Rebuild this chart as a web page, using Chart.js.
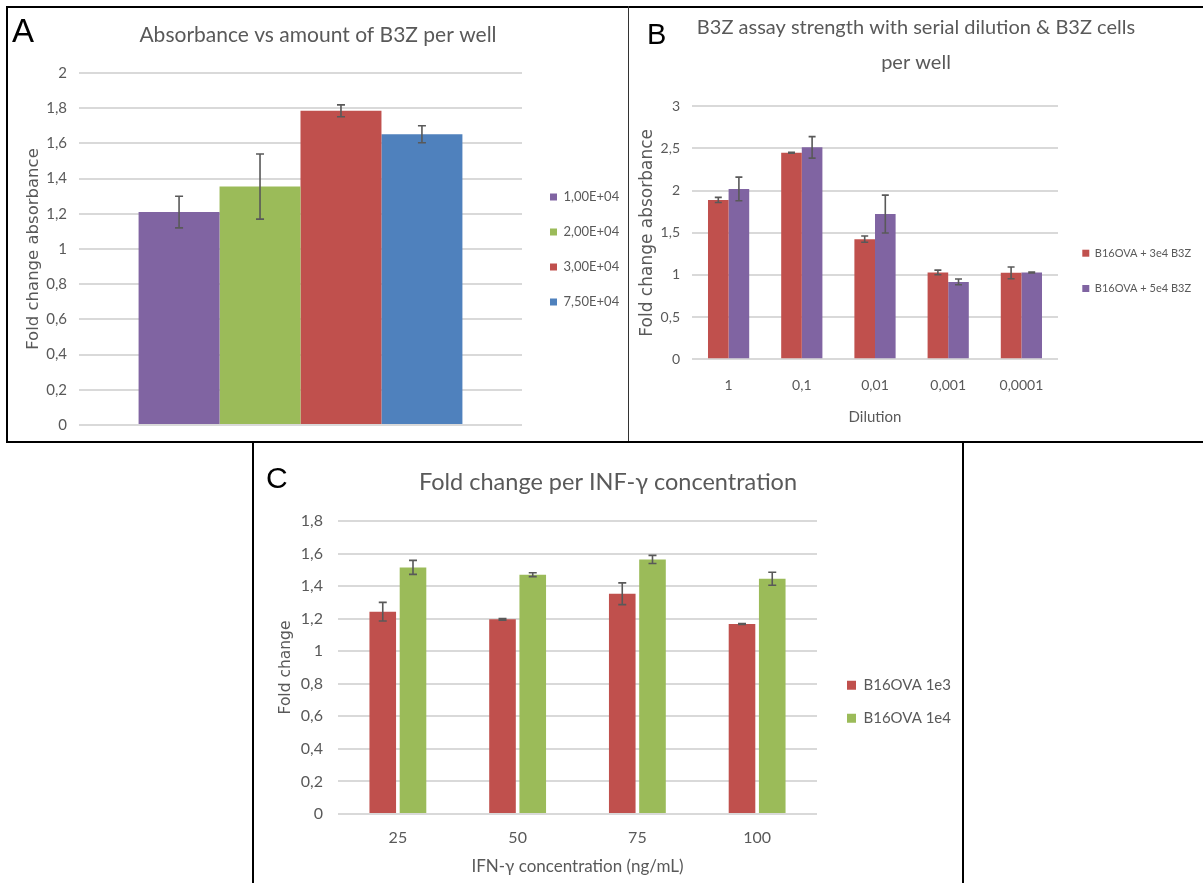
<!DOCTYPE html>
<html><head><meta charset="utf-8">
<script src="https://cdn.jsdelivr.net/npm/chart.js@4.4.1/dist/chart.umd.min.js"></script>
<style>
html,body{margin:0;padding:0;background:#fff;}
#wrap{position:relative;width:1203px;height:883px;overflow:hidden;background:#fff;}
.ln{position:absolute;background:#000;}
.lt{position:absolute;font-family:"Liberation Sans",Arial,sans-serif;color:#000;line-height:1;}
canvas{position:absolute;}
</style></head><body>
<div id="wrap">
<canvas id="cA" width="618" height="437" style="left:9px;top:9px"></canvas>
<canvas id="cB" width="574" height="431" style="left:629px;top:9px"></canvas>
<canvas id="cC" width="706" height="440" style="left:255px;top:443px"></canvas>
<div class="ln" style="left:6px;top:6px;width:1197px;height:2px"></div>
<div class="ln" style="left:6px;top:6px;width:2px;height:437px"></div>
<div class="ln" style="left:628px;top:6px;width:1px;height:436px;background:#333"></div>
<div class="ln" style="left:6px;top:441px;width:1197px;height:2px"></div>
<div class="ln" style="left:252px;top:441px;width:2px;height:442px"></div>
<div class="ln" style="left:962px;top:441px;width:2px;height:442px"></div>
<div class="lt" style="left:12px;top:14px;font-size:33px">A</div>
<div class="lt" style="left:647px;top:20px;font-size:29px">B</div>
<div class="lt" style="left:266px;top:463px;font-size:30px">C</div>
</div>
<script>
// ---------- DATA ----------
// Panel A
const aCategories = [''];
const aSeriesNames = ['1,00E+04', '2,00E+04', '3,00E+04', '7,50E+04'];
const aValues = [1.21, 1.355, 1.785, 1.652];
const aErrors = [0.09, 0.185, 0.034, 0.048];
const aTickLabels = ['0', '0,2', '0,4', '0,6', '0,8', '1', '1,2', '1,4', '1,6', '1,8', '2'];

// Panel B
const bCategories = ['1', '0,1', '0,01', '0,001', '0,0001'];
const bSeriesNames = ['B16OVA + 3e4 B3Z', 'B16OVA + 5e4 B3Z'];
const b3e4 = [1.89, 2.45, 1.425, 1.03, 1.025];
const b3e4Err = [0.03, 0.005, 0.037, 0.028, 0.07];
const b5e4 = [2.02, 2.513, 1.722, 0.918, 1.03];
const b5e4Err = [0.14, 0.127, 0.225, 0.034, 0.005];
const bTickLabels = ['0', '0,5', '1', '1,5', '2', '2,5', '3'];

// Panel C
const cCategories = ['25', '50', '75', '100'];
const cSeriesNames = ['B16OVA 1e3', 'B16OVA 1e4'];
const c1e3 = [1.243, 1.196, 1.353, 1.167];
const c1e3Err = [0.057, 0.005, 0.067, 0.003];
const c1e4 = [1.515, 1.470, 1.564, 1.445];
const c1e4Err = [0.043, 0.012, 0.025, 0.04];
const cTickLabels = ['0', '0,2', '0,4', '0,6', '0,8', '1', '1,2', '1,4', '1,6', '1,8'];

// ---------- STYLE ----------
const PURPLE = '#8064A2', GREEN = '#9BBB59', RED = '#C0504D', BLUE = '#4F81BD';
const GRAY = '#595959', GRID = '#D9D9D9';
const SANS = 'Lato, "Open Sans", sans-serif';
const WIDE = '"DejaVu Sans", Verdana, sans-serif';

const errorBars = {
  id: 'errorBars',
  afterDatasetsDraw(chart, args, opts) {
    const ctx = chart.ctx, ys = chart.scales.y;
    ctx.save();
    ctx.strokeStyle = opts.color || GRAY;
    ctx.lineWidth = opts.width || 1.6;
    chart.data.datasets.forEach((ds, i) => {
      const meta = chart.getDatasetMeta(i);
      if (!ds.errors) return;
      meta.data.forEach((bar, j) => {
        const v = ds.data[j], e = ds.errors[j];
        const x = bar.x;
        const yt = ys.getPixelForValue(v + e), yb = ys.getPixelForValue(v - e);
        const cw = opts.cap || 4;
        ctx.beginPath();
        ctx.moveTo(x, yt); ctx.lineTo(x, yb);
        ctx.moveTo(x - cw, yt); ctx.lineTo(x + cw, yt);
        ctx.moveTo(x - cw, yb); ctx.lineTo(x + cw, yb);
        ctx.stroke();
      });
    });
    ctx.restore();
  }
};

const fixLegend = {
  id: 'fixLegend',
  beforeLayout(chart, args, opts) {
    const lg = chart.legend;
    if (lg && !lg._fixedW) {
      const orig = lg.fit;
      lg.fit = function () { orig.call(this); if (opts.width) this.width = opts.width; };
      lg._fixedW = true;
    }
  }
};

function yAxis(max, step, labels, tickSize, tickPad, width, title, tSize, tPad) {
  return {
    min: 0, max: max,
    afterFit: s => { s.width = width; },
    grid: { color: GRID, lineWidth: 2, drawTicks: false },
    border: { display: false },
    ticks: { stepSize: step, color: GRAY, padding: tickPad, font: { family: SANS, size: tickSize },
      callback: (v, i) => labels[i] },
    title: { display: true, text: title, color: GRAY, font: { family: WIDE, size: tSize, lineHeight: 1.2 }, padding: { top: tPad, bottom: 0 } }
  };
}
function dummyAxis(w) {
  return { position: 'right', display: true, afterFit: s => { s.width = w; },
    grid: { display: false, drawTicks: false }, border: { display: false }, ticks: { display: false } };
}
function legendOpts(size, box, pad, shift) {
  return {
    position: 'right', align: 'center',
    title: { display: true, text: ' ', padding: { top: shift, bottom: 0 }, font: { size: 1, lineHeight: 1 } },
    labels: { boxWidth: box, boxHeight: box, padding: pad, color: GRAY, font: { family: SANS, size: size } }
  };
}

// ---------- CHART A ----------
new Chart(document.getElementById('cA'), {
  type: 'bar',
  data: {
    labels: aCategories,
    datasets: aSeriesNames.map((n, i) => ({
      label: n, data: [aValues[i]], errors: [aErrors[i]],
      backgroundColor: [PURPLE, GREEN, RED, BLUE][i],
      categoryPercentage: 0.731, barPercentage: 1.0
    }))
  },
  options: {
    responsive: false, animation: false, devicePixelRatio: 1,
    layout: { padding: { left: 0, right: 0, top: 0, bottom: 0 } },
    scales: {
      x: { display: false },
      y: yAxis(2, 0.2, aTickLabels, 15, 12, 70, 'Fold change absorbance', 16.5, 14.6),
      yR: dummyAxis(6)
    },
    plugins: {
      title: { display: true, text: 'Absorbance vs amount of B3Z per well', color: GRAY,
        font: { family: SANS, size: 21, weight: 'normal', lineHeight: 1.2 }, padding: { top: 13.4, bottom: 25.4 } },
      legend: legendOpts(13, 7, 22, 43),
      tooltip: { enabled: false },
      errorBars: { cap: 4, width: 1.6 },
      fixLegend: { width: 99 }
    }
  },
  plugins: [errorBars, fixLegend]
});

// ---------- CHART B ----------
new Chart(document.getElementById('cB'), {
  type: 'bar',
  data: {
    labels: bCategories,
    datasets: [
      { label: bSeriesNames[0], data: b3e4, errors: b3e4Err, backgroundColor: RED, categoryPercentage: 0.563, barPercentage: 1.0 },
      { label: bSeriesNames[1], data: b5e4, errors: b5e4Err, backgroundColor: PURPLE, categoryPercentage: 0.563, barPercentage: 1.0 }
    ]
  },
  options: {
    responsive: false, animation: false, devicePixelRatio: 1,
    layout: { padding: { left: 0, right: 0, top: 0, bottom: 10 } },
    scales: {
      x: {
        afterFit: s => { s.height = 70.7; },
        grid: { display: false, drawTicks: false }, border: { display: false },
        ticks: { color: GRAY, padding: 18, font: { family: SANS, size: 14 } },
        title: { display: true, text: 'Dilution', color: GRAY, font: { family: SANS, size: 15, lineHeight: 1.2 }, padding: { top: 0, bottom: 4.3 } }
      },
      y: yAxis(3, 0.5, bTickLabels, 14, 12, 63, 'Fold change absorbance', 17, 8.8),
      yR: dummyAxis(0)
    },
    plugins: {
      title: { display: true, text: ['B3Z assay strength with serial dilution & B3Z cells', 'per well'], color: GRAY,
        font: { family: SANS, size: 20, weight: 'normal', lineHeight: 1.78 }, padding: { top: 0.6, bottom: 25.5 } },
      legend: legendOpts(11, 7, 24.3, 101.7),
      tooltip: { enabled: false },
      errorBars: { cap: 3.5, width: 1.6 },
      fixLegend: { width: 145 }
    }
  },
  plugins: [errorBars, fixLegend]
});

// ---------- CHART C ----------
new Chart(document.getElementById('cC'), {
  type: 'bar',
  data: {
    labels: cCategories,
    datasets: [
      { label: cSeriesNames[0], data: c1e3, errors: c1e3Err, backgroundColor: RED, categoryPercentage: 0.505, barPercentage: 0.88 },
      { label: cSeriesNames[1], data: c1e4, errors: c1e4Err, backgroundColor: GREEN, categoryPercentage: 0.505, barPercentage: 0.88 }
    ]
  },
  options: {
    responsive: false, animation: false, devicePixelRatio: 1,
    layout: { padding: { left: 0, right: 0, top: 0, bottom: 6.4 } },
    scales: {
      x: {
        afterFit: s => { s.height = 62.6; },
        grid: { display: false, drawTicks: false }, border: { display: false },
        ticks: { color: GRAY, padding: 14.4, font: { family: SANS, size: 16 } },
        title: { display: true, text: 'IFN-γ concentration (ng/mL)', color: GRAY, font: { family: SANS, size: 17, lineHeight: 1.2 }, padding: { top: 0, bottom: 0 } }
      },
      y: yAxis(1.8, 0.2, cTickLabels, 16, 15, 83, 'Fold change', 15.5, 21.7),
      yR: dummyAxis(12)
    },
    plugins: {
      title: { display: true, text: 'Fold change per INF-γ concentration', color: GRAY,
        font: { family: SANS, size: 23.5, weight: 'normal', lineHeight: 1.2 }, padding: { top: 24.9, bottom: 24.9 } },
      legend: legendOpts(15, 9, 18, 83),
      tooltip: { enabled: false },
      errorBars: { cap: 4, width: 1.6 },
      fixLegend: { width: 132 }
    }
  },
  plugins: [errorBars, fixLegend]
});
</script>
</body></html>
